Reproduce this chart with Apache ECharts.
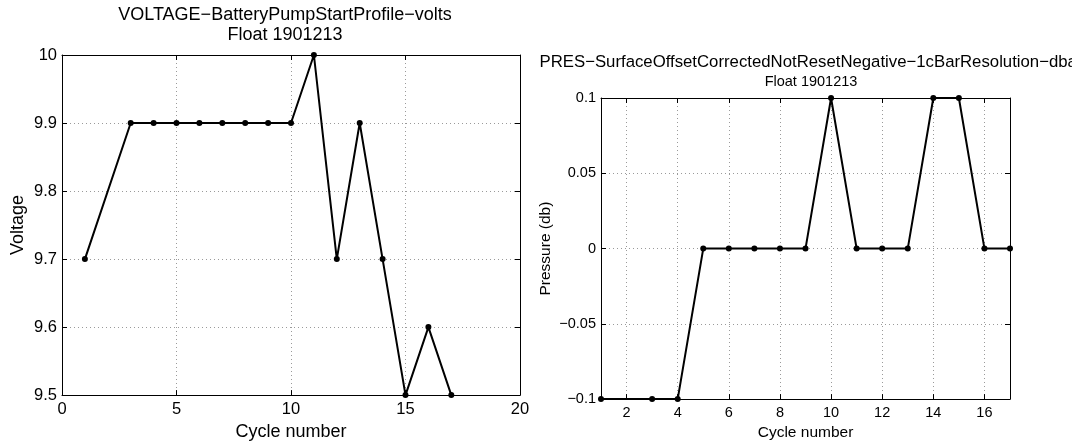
<!DOCTYPE html>
<html>
<head>
<meta charset="utf-8">
<script src="https://cdn.jsdelivr.net/npm/echarts@6/dist/echarts.min.js"></script>
<style>
html,body{margin:0;padding:0;background:#fff;}
#c{width:1072px;height:446px;}
</style>
</head>
<body>
<div id="c"></div>
<script>
// ---- data ----
const voltCycles = [1, 3, 4, 5, 6, 7, 8, 9, 10, 11, 12, 13, 14, 15, 16, 17];
const voltValues = [9.7, 9.9, 9.9, 9.9, 9.9, 9.9, 9.9, 9.9, 9.9, 10, 9.7, 9.9, 9.7, 9.5, 9.6, 9.5];
const presCycles = [1, 3, 4, 5, 6, 7, 8, 9, 10, 11, 12, 13, 14, 15, 16, 17];
const presValues = [-0.1, -0.1, -0.1, 0, 0, 0, 0, 0, 0.1, 0, 0, 0, 0.1, 0.1, 0, 0];
const presXTicks = [2, 4, 6, 8, 10, 12, 14, 16];
const voltTitle1 = 'VOLTAGE\u2212BatteryPumpStartProfile\u2212volts';
const presTitle1 = 'PRES\u2212SurfaceOffsetCorrectedNotResetNegative\u22121cBarResolution\u2212dbar';
const floatTitle = 'Float 1901213';

const FONT = '"Liberation Sans", Arial, Helvetica, sans-serif';
const minus = v => String(v).replace('-', '\u2212');

const chart = echarts.init(document.getElementById('c'), null, {renderer: 'canvas'});

const gridLine = {show: true, lineStyle: {color: '#9a9a9a', type: [1, 3], width: 1}};
const axLine = {show: true, onZero: false, lineStyle: {color: '#000', width: 1}};
const tickIn = {show: true, inside: true, length: 5, lineStyle: {color: '#000'}};

function mirrorX(grid, min, max, interval, custom) {
  const t = Object.assign({}, tickIn);
  if (custom) t.customValues = custom;
  return {type: 'value', gridIndex: grid, position: 'top', min, max, interval,
    axisLine: axLine, axisTick: t, axisLabel: {show: false}, splitLine: {show: false}};
}
function mirrorY(grid, min, max, interval) {
  return {type: 'value', gridIndex: grid, position: 'right', min, max, interval,
    axisLine: axLine, axisTick: tickIn, axisLabel: {show: false}, splitLine: {show: false}};
}

const option = {
  backgroundColor: '#fff',
  animation: false,
  textStyle: {fontFamily: FONT},
  title: [
    {text: '{a|' + voltTitle1 + '}\n{a|' + floatTitle + '}', left: 280, top: 0, textAlign: 'center',
     textStyle: {fontWeight: 'normal', rich: {a: {fontFamily: FONT, fontSize: 18, fontWeight: 'normal', color: '#000', lineHeight: 20, align: 'center'}}}},
    {text: '{a|' + presTitle1 + '}\n{b|' + floatTitle + '}', left: 806, top: 47, textAlign: 'center',
     textStyle: {fontWeight: 'normal', rich: {
       a: {fontFamily: FONT, fontSize: 16.75, fontWeight: 'normal', color: '#000', lineHeight: 20, align: 'center'},
       b: {fontFamily: FONT, fontSize: 14.5, fontWeight: 'normal', color: '#000', lineHeight: 19, align: 'center'}}}}
  ],
  grid: [
    {left: 62, right: 552, top: 55, bottom: 49, containLabel: false},
    {left: 601, right: 62, top: 98, bottom: 44, containLabel: false}
  ],
  xAxis: [
    {type: 'value', gridIndex: 0, min: 0, max: 20, interval: 5,
     name: 'Cycle number', nameLocation: 'middle', nameGap: 22,
     nameTextStyle: {fontFamily: FONT, fontSize: 18, color: '#000'},
     axisLine: axLine, axisTick: tickIn,
     axisLabel: {fontFamily: FONT, fontSize: 16.5, color: '#000', margin: 6},
     splitLine: gridLine},
    mirrorX(0, 0, 20, 5),
    {type: 'value', gridIndex: 1, min: 1, max: 17,
     name: 'Cycle number', nameLocation: 'middle', nameGap: 20,
     nameTextStyle: {fontFamily: FONT, fontSize: 15.5, color: '#000'},
     axisLine: axLine, axisTick: Object.assign({}, tickIn, {customValues: presXTicks}),
     axisLabel: {fontFamily: FONT, fontSize: 14.5, color: '#000', margin: 6, customValues: presXTicks},
     splitLine: gridLine},
    mirrorX(1, 1, 17, null, presXTicks)
  ],
  yAxis: [
    {type: 'value', gridIndex: 0, min: 9.5, max: 10, interval: 0.1,
     name: 'Voltage', nameLocation: 'middle', nameGap: 35, nameRotate: 90,
     nameTextStyle: {fontFamily: FONT, fontSize: 18, color: '#000'},
     axisLine: axLine, axisTick: tickIn,
     axisLabel: {fontFamily: FONT, fontSize: 16.5, color: '#000', margin: 5},
     splitLine: gridLine},
    mirrorY(0, 9.5, 10, 0.1),
    {type: 'value', gridIndex: 1, min: -0.1, max: 0.1, interval: 0.05,
     name: 'Pressure (db)', nameLocation: 'middle', nameGap: 47, nameRotate: 90,
     nameTextStyle: {fontFamily: FONT, fontSize: 15.5, color: '#000'},
     axisLine: axLine, axisTick: tickIn,
     axisLabel: {fontFamily: FONT, fontSize: 14.5, color: '#000', margin: 5, formatter: minus},
     splitLine: gridLine},
    mirrorY(1, -0.1, 0.1, 0.05)
  ],
  series: [
    {type: 'line', xAxisIndex: 0, yAxisIndex: 0, clip: false,
     data: voltCycles.map((c, i) => [c, voltValues[i]]),
     symbol: 'circle', symbolSize: 6, showAllSymbol: true,
     lineStyle: {color: '#000', width: 2}, itemStyle: {color: '#000'}},
    {type: 'line', xAxisIndex: 2, yAxisIndex: 2, clip: false,
     data: presCycles.map((c, i) => [c, presValues[i]]),
     symbol: 'circle', symbolSize: 6, showAllSymbol: true,
     lineStyle: {color: '#000', width: 2}, itemStyle: {color: '#000'}}
  ]
};
chart.setOption(option);
</script>
</body>
</html>
